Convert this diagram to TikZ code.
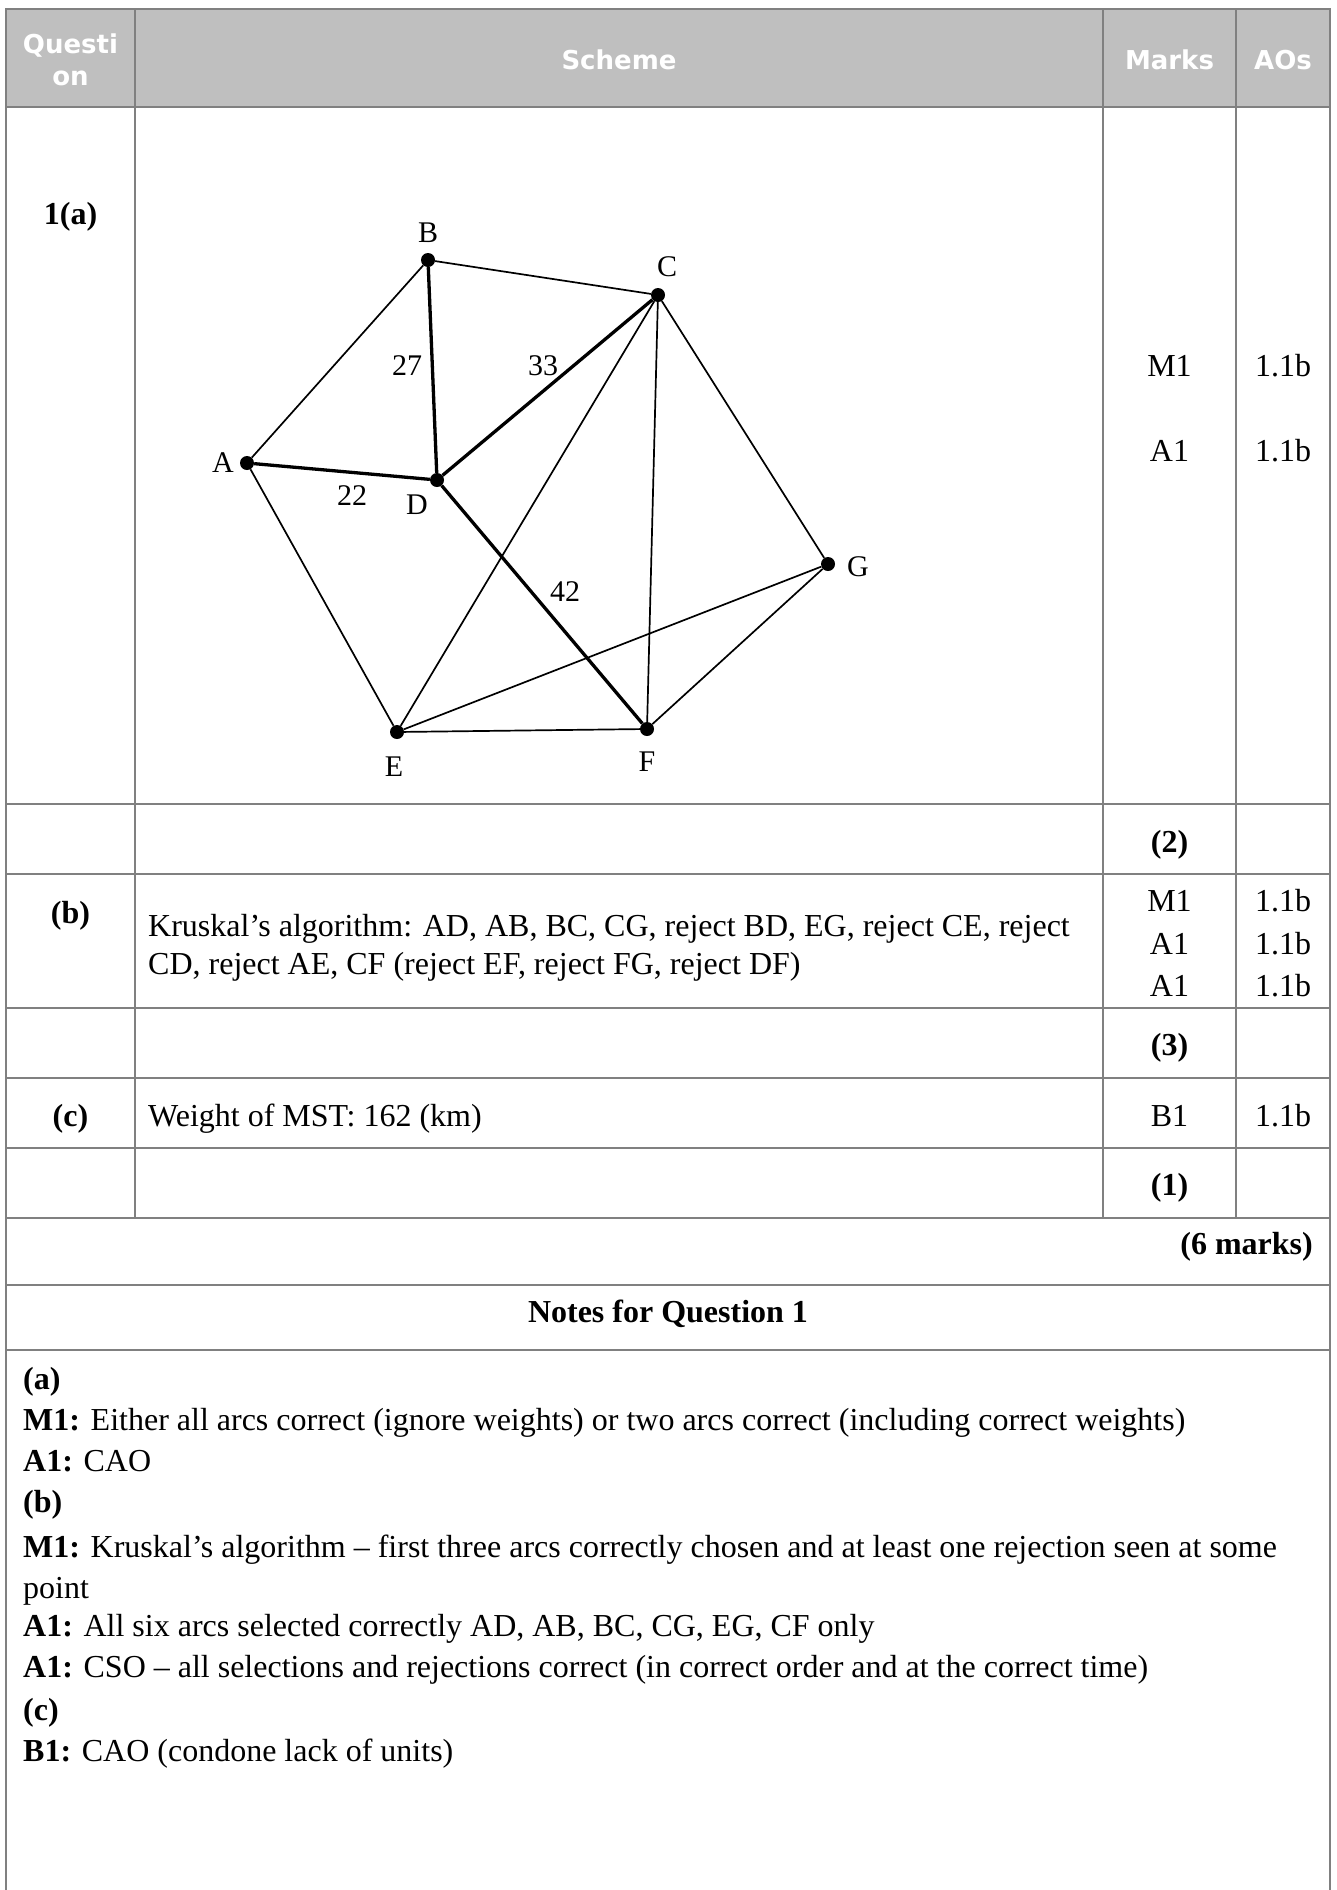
\documentclass[tikz,border=0pt]{standalone}
\usepackage{fontspec}
\setmainfont{Liberation Serif}
\newfontfamily\hdrfont{DejaVu Sans}
\definecolor{gridgrey}{HTML}{808080}
\definecolor{hdrgrey}{HTML}{BFBFBF}
\tikzset{
  gridline/.style={draw=gridgrey, line width=2pt},
  hdr/.style={font=\hdrfont\bfseries\fontsize{26}{31}\selectfont, text=white, inner sep=0pt, anchor=base},
  body/.style={font=\fontsize{32}{38}\selectfont, inner sep=0pt, anchor=base west},
  cell/.style={font=\fontsize{32}{38}\selectfont, inner sep=0pt, anchor=base},
  vtx/.style={circle, fill=black, inner sep=0pt, minimum size=14pt},
  vlabel/.style={font=\fontsize{30}{34}\selectfont, inner sep=0pt},
  arc/.style={line width=1.7pt},
  mstarc/.style={line width=3.3pt}
}
\begin{document}
\begin{tikzpicture}[x=1pt,y=-1pt]
\useasboundingbox (0,0) rectangle (1336,1890);
% header background
\fill[hdrgrey] (6,9) rectangle (1330,107);
% grid
\draw[gridline] (6,1890) -- (6,9) -- (1330,9) -- (1330,1890);
\foreach \yy in {107,804,874,1008,1078,1148,1218,1285,1350}
  \draw[gridline] (6,\yy) -- (1330,\yy);
\foreach \xx in {135,1103,1236}
  \draw[gridline] (\xx,9) -- (\xx,1218);
% header text
\node[hdr] (hq1) at (70.5,53) {Questi};
\node[hdr] (hq2) at (70.5,85) {on};
\node[hdr] (hs) at (619,69) {Scheme};
\node[hdr] (hm) at (1169.5,69) {Marks};
\node[hdr] (ha) at (1283,69) {AOs};
% row 1(a)
\node[cell] (q1a) at (70.5,224) {\bfseries 1(a)};
\node[cell] (m1a1) at (1169.5,376) {M1};
\node[cell] (a1a1) at (1283,376) {1.1b};
\node[cell] (m1a2) at (1169.5,461) {A1};
\node[cell] (a1a2) at (1283,461) {1.1b};
% graph
\node[vtx] (A) at (247,463) {};
\node[vtx] (B) at (428,260) {};
\node[vtx] (C) at (658,295) {};
\node[vtx] (D) at (437,480) {};
\node[vtx] (E) at (397,732) {};
\node[vtx] (F) at (647,729) {};
\node[vtx] (G) at (828,564) {};
\node[vlabel] (lA) at (223,463) {A};
\node[vlabel] (lB) at (428,233) {B};
\node[vlabel] (lC) at (667,267) {C};
\node[vlabel] (lD) at (417,505) {D};
\node[vlabel] (lE) at (394,767) {E};
\node[vlabel] (lF) at (647,762) {F};
\node[vlabel] (lG) at (858,567) {G};
\draw[arc] (A) -- (B);
\draw[arc] (B) -- (C);
\draw[arc] (C) -- (G);
\draw[arc] (G) -- (F);
\draw[arc] (F) -- (E);
\draw[arc] (E) -- (A);
\draw[arc] (C) -- (E);
\draw[arc] (C) -- (F);
\draw[arc] (E) -- (G);
\draw[mstarc] (A) -- (D);
\draw[mstarc] (B) -- (D);
\draw[mstarc] (C) -- (D);
\draw[mstarc] (D) -- (F);
\node[vlabel] (w27) at (407,366) {27};
\node[vlabel] (w33) at (543,366) {33};
\node[vlabel] (w22) at (352,496) {22};
\node[vlabel] (w42) at (565,592) {42};
% (2)
\node[cell] (t2) at (1169.5,852) {\bfseries (2)};
% row (b)
\node[cell] (qb) at (70.5,923) {\bfseries (b)};
\node[body] (kr1) at (148,936) {Kruskal’s algorithm: AD, AB, BC, CG, reject BD, EG, reject CE, reject};
\node[body] (kr2) at (148,974) {CD, reject AE, CF (reject EF, reject FG, reject DF)};
\node[cell] (mb1) at (1169.5,911) {M1};
\node[cell] (ab1) at (1283,911) {1.1b};
\node[cell] (mb2) at (1169.5,954) {A1};
\node[cell] (ab2) at (1283,954) {1.1b};
\node[cell] (mb3) at (1169.5,996) {A1};
\node[cell] (ab3) at (1283,996) {1.1b};
\node[cell] (t3) at (1169.5,1055) {\bfseries (3)};
% row (c)
\node[cell] (qc) at (70.5,1126) {\bfseries (c)};
\node[body] (wt) at (148,1126) {Weight of MST: 162 (km)};
\node[cell] (mc) at (1169.5,1126) {B1};
\node[cell] (ac) at (1283,1126) {1.1b};
\node[cell] (t1) at (1169.5,1195) {\bfseries (1)};
% total
\node[cell, anchor=base east] (tot) at (1313,1254) {\bfseries (6 marks)};
% notes
\node[cell] (nh) at (668,1322) {\bfseries Notes for Question 1};
\node[body] (n1) at (23,1389) {\bfseries (a)};
\node[body] (n2) at (23,1430) {\textbf{M1:} Either all arcs correct (ignore weights) or two arcs correct (including correct weights)};
\node[body] (n3) at (23,1471) {\textbf{A1:} CAO};
\node[body] (n4) at (23,1512) {\bfseries (b)};
\node[body] (n5) at (23,1557) {\textbf{M1:} Kruskal’s algorithm – first three arcs correctly chosen and at least one rejection seen at some};
\node[body] (n6) at (23,1598) {point};
\node[body] (n7) at (23,1636) {\textbf{A1:} All six arcs selected correctly AD, AB, BC, CG, EG, CF only};
\node[body] (n8) at (23,1677) {\textbf{A1:} CSO – all selections and rejections correct (in correct order and at the correct time)};
\node[body] (n9) at (23,1720) {\bfseries (c)};
\node[body] (n10) at (23,1761) {\textbf{B1:} CAO (condone lack of units)};
\end{tikzpicture}
\end{document}
